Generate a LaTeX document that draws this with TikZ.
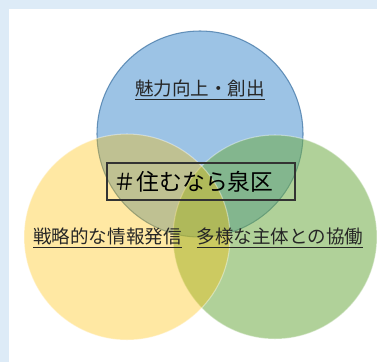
\documentclass[tikz,border=0pt]{standalone}
\usepackage{fontspec}
\newfontfamily\jpfont{Noto Sans CJK JP}

\definecolor{panelbg}{HTML}{DDEBF7}
\definecolor{cblue}{HTML}{5B9BD5}
\definecolor{cgreen}{HTML}{70AD47}
\definecolor{cyellow}{HTML}{FFC000}

\tikzset{
  ring/.style={fill opacity=0.6, draw opacity=0.8, line width=0.8pt},
  lbl/.style={font=\jpfont\fontsize{13.9}{16}\selectfont, inner sep=0pt, text=black!85},
  hashbox/.style={draw=black!80, line width=0.9pt, inner sep=0pt,
    minimum width=141pt, minimum height=27.75pt,
    font=\jpfont\fontsize{17.1}{20}\selectfont}
}

\begin{document}
\begin{tikzpicture}[x=0.75pt,y=-0.75pt]
    \useasboundingbox (0,0) rectangle (377,362);
    \fill [panelbg] (0,0) rectangle (377,362);
    \fill [white] (8.5,8.5) rectangle (377,362);
    % circles
    \draw [ring, fill=cblue, draw=cblue!80!black] (200,134) circle [radius=103];
    \draw [ring, fill=cgreen, fill opacity=0.55, draw=white, draw opacity=0.4] (275,237) circle [radius=102];
    \draw [ring, fill=cyellow, fill opacity=0.36, draw=white, draw opacity=0.4] (127,237) circle [radius=103];
    % labels
    \node [lbl] (charm) at (200,90) {\underline{魅力向上・創出}};
    \node [lbl] (promo) at (107.5,238) {\underline{戦略的な情報発信}};
    \node [lbl] (collab) at (280,238) {\underline{多様な主体との協働}};
    \node [hashbox] (hashtag) at (201,181.5) {\hspace*{-11pt}＃住むなら泉区};
\end{tikzpicture}
\end{document}
